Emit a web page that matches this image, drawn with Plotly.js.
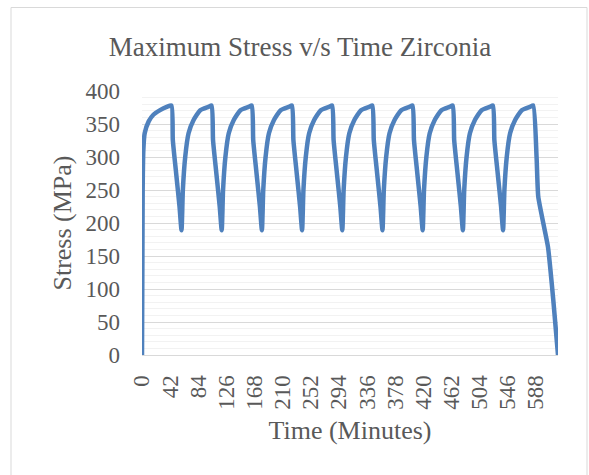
<!DOCTYPE html>
<html>
<head>
<meta charset="utf-8">
<script src="https://cdn.plot.ly/plotly-3.0.1.min.js"></script>
<style>
  html, body { margin: 0; padding: 0; background: #ffffff; }
  #chart { width: 589px; height: 475px; }
</style>
</head>
<body>
<div id="chart"></div>
<script>
// Time (minutes)
var timeMinutes = [
  0, 1, 2, 4, 10, 17, 27, 37, 44, 46, 51, 56, 59,
  61, 64.5, 69.5, 77, 87, 99, 104, 106, 111, 116, 119,
  121, 124.5, 129.5, 137, 147, 159, 164, 166, 171, 176, 179,
  181, 184.5, 189.5, 197, 207, 219, 224, 226, 231, 236, 239,
  241, 244.5, 249.5, 257, 267, 279, 284, 286, 291, 296, 299,
  301, 304.5, 309.5, 317, 327, 339, 344, 346, 351, 356, 359,
  361, 364.5, 369.5, 377, 387, 399, 404, 406, 411, 416, 419,
  421, 424.5, 429.5, 437, 447, 459, 464, 466, 471, 476, 479,
  481, 484.5, 489.5, 497, 507, 519, 524, 526, 531, 536, 539,
  541, 544.5, 549.5, 557, 567, 579, 584, 589, 591.5, 599, 606, 614, 621
];
// Maximum stress (MPa)
var stressMPa = [
  0, 250, 310, 336, 354, 364, 371, 376, 378, 326, 275, 225, 189,
  250, 300, 336, 356, 371, 376, 378, 326, 275, 225, 189,
  250, 300, 336, 356, 371, 376, 378, 326, 275, 225, 189,
  250, 300, 336, 356, 371, 376, 378, 326, 275, 225, 189,
  250, 300, 336, 356, 371, 376, 378, 326, 275, 225, 189,
  250, 300, 336, 356, 371, 376, 378, 326, 275, 225, 189,
  250, 300, 336, 356, 371, 376, 378, 326, 275, 225, 189,
  250, 300, 336, 356, 371, 376, 378, 326, 275, 225, 189,
  250, 300, 336, 356, 371, 376, 378, 326, 275, 225, 189,
  250, 300, 336, 356, 371, 376, 378, 300, 240, 200, 164, 83, 0
];
var xTickValues = [0, 42, 84, 126, 168, 210, 252, 294, 336, 378, 420, 462, 504, 546, 588];
var xTickLabels = ["0", "42", "84", "126", "168", "210", "252", "294", "336", "378", "420", "462", "504", "546", "588"];
var yTickValues = [0, 50, 100, 150, 200, 250, 300, 350, 400];

var textColor = "#595959";
var fontFamily = "'Liberation Serif', 'Times New Roman', serif";

var trace = {
  x: timeMinutes,
  y: stressMPa,
  type: "scatter",
  mode: "lines",
  line: { color: "#4F81BD", width: 4.5, shape: "spline", smoothing: 0.5 },
  hoverinfo: "x+y"
};

var layout = {
  width: 589,
  height: 475,
  paper_bgcolor: "#ffffff",
  plot_bgcolor: "#ffffff",
  showlegend: false,
  margin: { l: 142, r: 31, t: 91, b: 120, pad: 0 },
  font: { family: fontFamily, color: textColor },
  title: {
    text: "Maximum Stress v/s Time Zirconia",
    font: { family: fontFamily, size: 27, color: textColor },
    xref: "container", x: 300 / 589, xanchor: "center",
    yref: "container", y: 1 - 47 / 475, yanchor: "middle"
  },
  xaxis: {
    range: [0, 621],
    tickmode: "array",
    tickvals: xTickValues,
    ticktext: xTickLabels,
    tickangle: -90,
    tickfont: { family: fontFamily, size: 23, color: textColor },
    ticks: "",
    ticklabelstandoff: 10,
    showgrid: false,
    zeroline: false,
    showline: true,
    linecolor: "#d9d9d9",
    linewidth: 1,
    title: {
      text: "Time (Minutes)",
      font: { family: fontFamily, size: 26, color: textColor },
      standoff: 12
    }
  },
  yaxis: {
    range: [0, 400],
    tickmode: "array",
    tickvals: yTickValues,
    tickfont: { family: fontFamily, size: 23, color: textColor },
    ticks: "",
    ticklabelstandoff: 21,
    showgrid: true,
    gridcolor: "#d9d9d9",
    gridwidth: 1,
    minor: { dtick: 10, showgrid: true, gridcolor: "#f2f2f2", gridwidth: 1 },
    zeroline: false,
    showline: false,
    title: {
      text: "Stress (MPa)",
      font: { family: fontFamily, size: 26, color: textColor },
      standoff: 6
    }
  },
  shapes: [{
    type: "rect",
    xref: "paper", yref: "paper",
    x0: (11 - 142) / 416, x1: (587 - 142) / 416,
    y0: (355 - 490) / 264, y1: (355 - 7.5) / 264,
    line: { color: "#d9d9d9", width: 1 },
    fillcolor: "rgba(0,0,0,0)",
    layer: "below"
  }]
};

Plotly.newPlot("chart", [trace], layout, { displayModeBar: false, staticPlot: true });
</script>
</body>
</html>
